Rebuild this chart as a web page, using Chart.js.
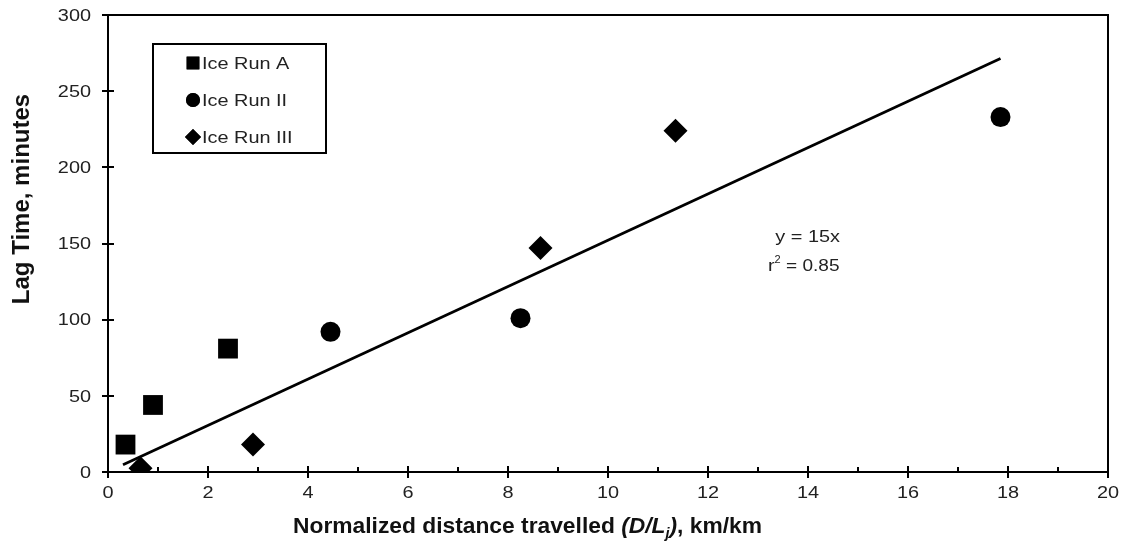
<!DOCTYPE html>
<html>
<head>
<meta charset="utf-8">
<script src="https://cdn.jsdelivr.net/npm/chart.js@4/dist/chart.umd.min.js"></script>
<style>
  html, body { margin: 0; padding: 0; background: #fff; }
  #wrap { width: 1129px; height: 545px; }
</style>
</head>
<body>
<div id="wrap"><canvas id="lagChart" width="1129" height="545"></canvas></div>
<script>
// values
const runAX = [0.35, 0.9, 2.4];
const runAY = [18, 44, 81];
const run2X = [4.45, 8.25, 17.85];
const run2Y = [92, 101, 233];
const run3X = [0.65, 2.9, 8.65, 11.35];
const run3Y = [2.5, 18, 147, 224];
const trendX = [0.3, 17.85];
const trendY = [4.8, 271.5];
const xTicks = [0, 2, 4, 6, 8, 10, 12, 14, 16, 18, 20];
const yTicks = [0, 50, 100, 150, 200, 250, 300];
const seriesNames = ['Ice Run A', 'Ice Run II', 'Ice Run III'];

const FONT = "'Liberation Sans', Arial, sans-serif";
const SX = 1.17; // the original text is a bit wide

function pts(xs, ys) {
    return xs.map((x, i) => ({ x: x, y: ys[i] }));
}

// write text stretched horizontally, returns drawn width
function wideText(ctx, txt, x, y, align, sx) {
    let w = ctx.measureText(txt).width * sx;
    let left = x;
    if (align === 'right') left = x - w;
    if (align === 'center') left = x - w / 2;
    ctx.save();
    ctx.translate(left, y);
    ctx.scale(sx, 1);
    ctx.textAlign = 'left';
    ctx.fillText(txt, 0, 0);
    ctx.restore();
    return w;
}

// frame, ticks and labels, legend box, equation, axis titles
const decor = {
    id: 'decor',
    afterDraw(chart) {
        let ctx = chart.ctx;
        let a = chart.chartArea;
        let xs = chart.scales.x;
        let ys = chart.scales.y;
        ctx.save();
        ctx.strokeStyle = '#000';
        ctx.lineWidth = 2;
        ctx.strokeRect(a.left, a.top, a.right - a.left, a.bottom - a.top);

        ctx.beginPath();
        for (let v = 0; v <= 20; v++) {
            let px = Math.round(xs.getPixelForValue(v));
            if (v % 2 === 0) {
                ctx.moveTo(px, a.bottom - 6);
                ctx.lineTo(px, a.bottom + 6);
            } else {
                ctx.moveTo(px, a.bottom - 5);
                ctx.lineTo(px, a.bottom);
            }
        }
        yTicks.forEach(v => {
            let py = Math.round(ys.getPixelForValue(v));
            ctx.moveTo(a.left - 6, py);
            ctx.lineTo(a.left + 6, py);
        });
        ctx.stroke();

        // tick labels
        ctx.fillStyle = '#222';
        ctx.font = '17px ' + FONT;
        ctx.textBaseline = 'middle';
        xTicks.forEach(v => {
            wideText(ctx, String(v), xs.getPixelForValue(v), a.bottom + 21, 'center', SX);
        });
        yTicks.forEach(v => {
            wideText(ctx, String(v), a.left - 17, ys.getPixelForValue(v) + 1, 'right', SX);
        });

        // legend
        ctx.lineWidth = 2;
        ctx.strokeRect(153, 44, 173, 109);
        let rowsY = [63, 100, 137];
        let styles = ['rect', 'circle', 'rectRot'];
        let radii = [9, 7, 8];
        ctx.fillStyle = '#000';
        rowsY.forEach((ry, i) => {
            Chart.helpers.drawPoint(ctx, { pointStyle: styles[i], radius: radii[i], borderWidth: 0 }, 193, ry);
            ctx.fill();
        });
        ctx.fillStyle = '#222';
        ctx.font = '17px ' + FONT;
        rowsY.forEach((ry, i) => wideText(ctx, seriesNames[i], 202, ry + 1, 'left', SX));

        // equation
        wideText(ctx, 'y = 15x', 840, 237, 'right', SX);
        let ex = 768;
        ex += wideText(ctx, 'r', ex, 266, 'left', SX);
        ctx.font = '11px ' + FONT;
        ex += wideText(ctx, '2', ex, 260, 'left', 1.0);
        ctx.font = '17px ' + FONT;
        wideText(ctx, ' = 0.85', ex, 266, 'left', 1.12);

        // y axis title
        ctx.save();
        ctx.translate(22, 199);
        ctx.rotate(-Math.PI / 2);
        ctx.font = 'bold 24px ' + FONT;
        ctx.fillStyle = '#111';
        ctx.textAlign = 'center';
        ctx.fillText('Lag Time, minutes', 0, 0);
        ctx.restore();

        // x axis title with italic part
        let parts = [
            ['Normalized distance travelled ', 'bold 22px ', 0],
            ['(D/L', 'italic bold 22px ', 0],
            ['j', 'italic bold 14px ', 5],
            [')', 'italic bold 22px ', 0],
            [', km/km', 'bold 22px ', 0]
        ];
        let total = 0;
        parts.forEach(p => { ctx.font = p[1] + FONT; total += ctx.measureText(p[0]).width; });
        let fit = (762 - 293) / total;
        let x0 = 293;
        ctx.fillStyle = '#111';
        ctx.textBaseline = 'alphabetic';
        parts.forEach(p => {
            ctx.font = p[1] + FONT;
            x0 += wideText(ctx, p[0], x0, 533 + p[2], 'left', fit);
        });
        ctx.restore();
    }
};

new Chart(document.getElementById('lagChart').getContext('2d'), {
    type: 'scatter',
    data: {
        datasets: [
            {
                label: seriesNames[0],
                data: pts(runAX, runAY),
                pointStyle: 'rect',
                pointRadius: 14,
                backgroundColor: '#000',
                borderWidth: 0
            },
            {
                label: seriesNames[1],
                data: pts(run2X, run2Y),
                pointStyle: 'circle',
                pointRadius: 10,
                backgroundColor: '#000',
                borderWidth: 0
            },
            {
                label: seriesNames[2],
                data: pts(run3X, run3Y),
                pointStyle: 'rectRot',
                pointRadius: 12,
                backgroundColor: '#000',
                borderWidth: 0
            },
            {
                type: 'line',
                label: 'trend',
                data: pts(trendX, trendY),
                borderColor: '#000',
                borderWidth: 2.8,
                pointRadius: 0,
                fill: false
            }
        ]
    },
    options: {
        responsive: false,
        animation: false,
        layout: { padding: { left: 0, right: 21, top: 15, bottom: 0 } },
        plugins: {
            legend: { display: false },
            tooltip: { enabled: false }
        },
        scales: {
            x: {
                type: 'linear',
                min: 0,
                max: 20,
                afterBuildTicks: s => { s.ticks = xTicks.map(v => ({ value: v })); },
                afterFit: s => { s.height = 73; },
                grid: { display: false },
                border: { display: false },
                ticks: { display: false }
            },
            y: {
                min: 0,
                max: 300,
                afterBuildTicks: s => { s.ticks = yTicks.map(v => ({ value: v })); },
                afterFit: s => { s.width = 108; },
                grid: { display: false },
                border: { display: false },
                ticks: { display: false }
            }
        }
    },
    plugins: [decor]
});
</script>
</body>
</html>
